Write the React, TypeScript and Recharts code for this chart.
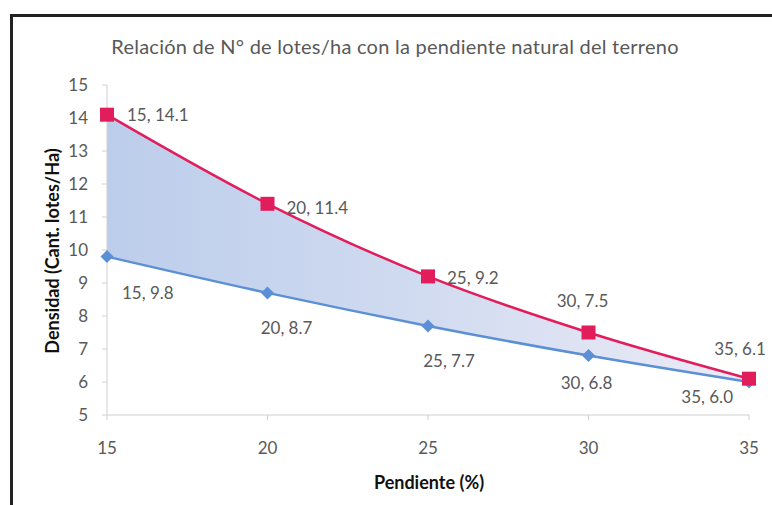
import { ComposedChart, Area, Line, XAxis, YAxis, LabelList } from 'recharts'

const pendiente = [15, 20, 25, 30, 35]
const densidadMax = [14.1, 11.4, 9.2, 7.5, 6.1]
const densidadMin = [9.8, 8.7, 7.7, 6.8, 6.0]
const xTicks = [15, 20, 25, 30, 35]
const yTicks = [5, 6, 7, 8, 9, 10, 11, 12, 13, 14, 15]

const data = pendiente.map((p, i) => ({
  p,
  max: densidadMax[i],
  min: densidadMin[i],
  band: [densidadMin[i], densidadMax[i]],
}))

// label offsets (dx, dy, anchor) per point
const maxPlace: [number, number, string][] = [
  [20, 0, 'start'],
  [19, 4, 'start'],
  [19, 2, 'start'],
  [-6, -31, 'middle'],
  [-9, -30, 'middle'],
]
const minPlace: [number, number, string][] = [
  [15, 36, 'start'],
  [19, 35, 'middle'],
  [21, 35, 'middle'],
  [-2, 27, 'middle'],
  [-16, 15, 'end'],
]

const RED = '#e11d5c'
const BLUE = '#5b8fd6'
const GRAY = '#595959'
const FONT = 'Lato, "Open Sans", sans-serif'

const Square = (props: any) => {
  const { cx, cy } = props
  if (cx == null || cy == null) return null
  return <rect x={cx - 7} y={cy - 7} width={14} height={14} fill={RED} />
}

const Diamond = (props: any) => {
  const { cx, cy } = props
  if (cx == null || cy == null) return null
  return <path d={`M${cx},${cy - 6.5}L${cx + 6.5},${cy}L${cx},${cy + 6.5}L${cx - 6.5},${cy}Z`} fill={BLUE} />
}

const makeLabel = (place: [number, number, string][], vals: number[]) => (props: any) => {
  const { x, y, index } = props
  const [dx, dy, anchor] = place[index]
  return (
    <text x={x + dx} y={y + dy} dy="0.35em" textAnchor={anchor} fill={GRAY} fontSize={17} fontFamily={FONT}>
      {`${pendiente[index]}, ${vals[index].toFixed(1)}`}
    </text>
  )
}

export default function App() {
  return (
    <div style={{ position: 'absolute', left: 0, top: 0, width: 772, height: 505, background: '#fff', overflow: 'hidden', fontFamily: FONT }}>
      <div style={{ position: 'absolute', left: 10, top: 14, width: 780, height: 500, borderTop: '3px solid #222', borderLeft: '3px solid #222' }} />
      <div style={{ position: 'absolute', left: 0, width: 790, top: 34, textAlign: 'center', fontSize: 20, letterSpacing: 0.25, lineHeight: '24px', color: GRAY }}>
        Relación de N° de lotes/ha con la pendiente natural del terreno
      </div>
      <div style={{ position: 'absolute', left: 0, width: 858, top: 470, textAlign: 'center', fontSize: 18, lineHeight: '24px', fontWeight: 'bold', color: '#111' }}>
        Pendiente (%)
      </div>
      <div
        style={{
          position: 'absolute',
          left: 52,
          top: 251,
          transform: 'translate(-50%, -50%) rotate(-90deg)',
          whiteSpace: 'nowrap',
          fontSize: 18,
          fontWeight: 'bold',
          color: '#111',
        }}
      >
        Densidad (Cant. lotes/Ha)
      </div>
      <ComposedChart
        width={772}
        height={505}
        data={data}
        margin={{ top: 85, right: 23, left: 20, bottom: 20 }}
        style={{ position: 'absolute', left: 0, top: 0 }}
      >
        <defs>
          <linearGradient id="bandFill" x1="0" y1="0" x2="1" y2="0">
            <stop offset="0%" stopColor="#bccdeb" />
            <stop offset="45%" stopColor="#cfdaf0" />
            <stop offset="100%" stopColor="#ecebf5" />
          </linearGradient>
        </defs>
        <XAxis
          dataKey="p"
          type="number"
          domain={[15, 35]}
          ticks={xTicks}
          height={70}
          stroke="#d0d0d0"
          tickSize={5}
          tickMargin={22}
          tick={{ fill: GRAY, fontSize: 17, fontFamily: FONT }}
        />
        <YAxis
          type="number"
          domain={[5, 15]}
          ticks={yTicks}
          width={87}
          stroke="#d0d0d0"
          tickSize={5}
          tickMargin={14}
          tick={{ fill: GRAY, fontSize: 17, fontFamily: FONT }}
        />
        <Area type="monotone" dataKey="band" stroke="none" fill="url(#bandFill)" fillOpacity={1} isAnimationActive={false} />
        <Line type="monotone" dataKey="min" stroke={BLUE} strokeWidth={2.5} dot={<Diamond />} isAnimationActive={false}>
          <LabelList dataKey="min" content={makeLabel(minPlace, densidadMin)} />
        </Line>
        <Line type="monotone" dataKey="max" stroke={RED} strokeWidth={2.5} dot={<Square />} isAnimationActive={false}>
          <LabelList dataKey="max" content={makeLabel(maxPlace, densidadMax)} />
        </Line>
      </ComposedChart>
    </div>
  )
}
